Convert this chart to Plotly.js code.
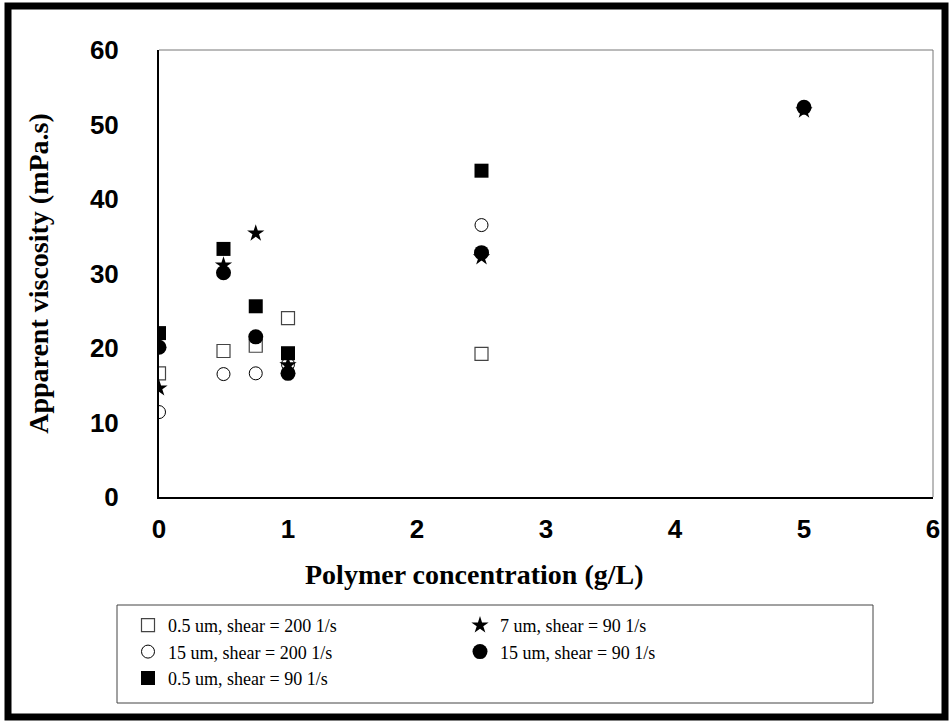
<!DOCTYPE html>
<html>
<head>
<meta charset="utf-8">
<script src="https://cdn.plot.ly/plotly-3.0.1.min.js"></script>
<style>html,body{margin:0;padding:0;background:#fff;}#chart{width:952px;height:723px;}</style>
</head>
<body>
<div id="chart"></div>
<script>
// ---- data ----
var seriesNames = [
  "0.5 um, shear = 200 1/s",
  "7 um, shear = 90 1/s",
  "15 um, shear = 200 1/s",
  "15 um, shear = 90 1/s",
  "0.5 um, shear = 90 1/s"
];
var xSq200 = [0, 0.5, 0.75, 1, 2.5];
var ySq200 = [16.6, 19.6, 20.3, 24.0, 19.2];
var xStar90 = [0, 0.5, 0.75, 1, 2.5, 5];
var yStar90 = [14.6, 31.1, 35.4, 17.7, 32.2, 51.9];
var xCirc200 = [0, 0.5, 0.75, 1, 2.5];
var yCirc200 = [11.4, 16.5, 16.6, 17.8, 36.5];
var xCirc90 = [0, 0.5, 0.75, 1, 2.5, 5];
var yCirc90 = [20.1, 30.1, 21.5, 16.6, 32.8, 52.3];
var xSq90 = [0, 0.5, 0.75, 1, 2.5];
var ySq90 = [22.0, 33.3, 25.6, 19.3, 43.8];
var xTicks = [0, 1, 2, 3, 4, 5, 6];
var yTicks = [0, 10, 20, 30, 40, 50, 60];
var xTitle = 'Polymer concentration (g/L)';
var yTitle = 'Apparent viscosity (mPa.s)';

// ---- layout geometry (pixels) ----
var W = 952, H = 723;
var L = 159, R = 933, T = 50, B = 497;
function px(x) { return (x - L) / (R - L); }
function py(y) { return (B - y) / (B - T); }

var traces = [
  {x: xSq200, y: ySq200, name: seriesNames[0], type: 'scatter', mode: 'markers',
   marker: {symbol: 'square-open', size: 13, color: '#444', line: {width: 1.2, color: '#444'}}},
  {x: xStar90, y: yStar90, name: seriesNames[1], type: 'scatter', mode: 'markers',
   marker: {symbol: 'star', size: 13, color: '#000', line: {width: 0}}},
  {x: xCirc200, y: yCirc200, name: seriesNames[2], type: 'scatter', mode: 'markers',
   marker: {symbol: 'circle-open', size: 13, color: '#000', line: {width: 1}}},
  {x: xCirc90, y: yCirc90, name: seriesNames[3], type: 'scatter', mode: 'markers',
   marker: {symbol: 'circle', size: 15, color: '#000', line: {width: 0}}},
  {x: xSq90, y: ySq90, name: seriesNames[4], type: 'scatter', mode: 'markers',
   marker: {symbol: 'square', size: 14, color: '#000', line: {width: 0}}}
];

var tickFont = {family: 'Liberation Sans, Arial, sans-serif', size: 26, color: '#000', weight: 'bold'};
var titleFont = {family: 'Liberation Serif, Times New Roman, serif', size: 28, color: '#000', weight: 'bold'};

var layout = {
  width: W, height: H,
  margin: {l: L, r: W - R, t: T, b: H - B, pad: 0},
  paper_bgcolor: '#fff', plot_bgcolor: '#fff',
  showlegend: true,
  xaxis: {
    range: [0, 6], tickvals: xTicks, ticktext: xTicks.map(String),
    showgrid: false, zeroline: false, showline: true, linecolor: '#000', linewidth: 2,
    ticks: '', tickfont: tickFont, ticklabelstandoff: 8
  },
  yaxis: {
    range: [0, 60], tickvals: yTicks, ticktext: yTicks.map(String),
    showgrid: false, zeroline: false, showline: true, linecolor: '#000', linewidth: 2,
    ticks: '', tickfont: tickFont, ticklabelstandoff: 33,
    title: {text: yTitle, font: titleFont, standoff: 33}
  },
  annotations: [
    {text: xTitle, xref: 'paper', yref: 'paper', x: px(474), y: py(574),
     xanchor: 'center', yanchor: 'middle', showarrow: false, font: titleFont}
  ],
  legend: {
    orientation: 'h', x: px(128), y: py(607), xanchor: 'left', yanchor: 'top',
    bgcolor: 'rgba(0,0,0,0)', borderwidth: 0,
    entrywidth: 287, entrywidthmode: 'pixels',
    font: {family: 'Liberation Serif, Times New Roman, serif', size: 18, color: '#000'},
    traceorder: 'normal', itemclick: false
  },
  shapes: [
    // top and right plot-frame edges (thin grey)
    {type: 'line', xref: 'paper', yref: 'paper', x0: 0, x1: 1, y0: 1, y1: 1, line: {color: '#777', width: 1}},
    {type: 'line', xref: 'paper', yref: 'paper', x0: 1, x1: 1, y0: 0, y1: 1, line: {color: '#777', width: 1}},
    // legend box
    {type: 'rect', xref: 'paper', yref: 'paper', x0: px(117), x1: px(873), y0: py(605), y1: py(703),
     line: {color: '#444', width: 1}, fillcolor: 'rgba(0,0,0,0)', layer: 'below'},
    // outer chart frame
    {type: 'rect', xref: 'paper', yref: 'paper', x0: px(8), x1: px(945), y0: py(6), y1: py(717),
     line: {color: '#000', width: 7}, fillcolor: 'rgba(0,0,0,0)'}
  ]
};

Plotly.newPlot('chart', traces, layout, {displayModeBar: false, staticPlot: true});
</script>
</body>
</html>
